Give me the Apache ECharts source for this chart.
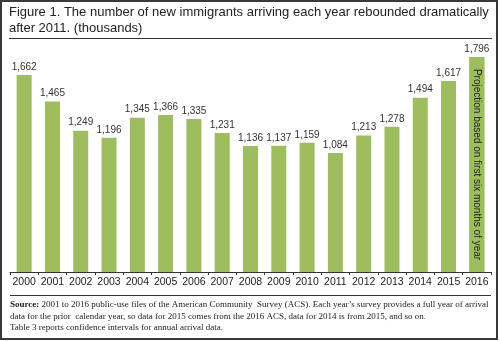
<!DOCTYPE html>
<html>
<head>
<meta charset="utf-8">
<script src="https://cdn.jsdelivr.net/npm/echarts@6/dist/echarts.min.js"></script>
<style>
html,body{margin:0;padding:0;background:#fff;}
#c{width:500px;height:341px;}
</style>
</head>
<body>
<div id="c"></div>
<script>
const years = ['2000','2001','2002','2003','2004','2005','2006','2007','2008','2009','2010','2011','2012','2013','2014','2015','2016'];
const arrivals = [1662,1465,1249,1196,1345,1366,1335,1231,1136,1137,1159,1084,1213,1278,1494,1617,1796];
const titleLines = ['Figure 1. The number of new immigrants arriving each year rebounded dramatically', 'after 2011. (thousands)'];
const projectionNote = 'Projection based on first six months of year';
const sourceLines = [
  ['Source:', ' 2001 to 2016 public-use files of the American Community  Survey (ACS). Each year\u2019s survey provides a full year of arrival'],
  ['', 'data for the prior  calendar year, so data for 2015 comes from the 2016 ACS, data for 2014 is from 2015, and so on.'],
  ['', 'Table 3 reports confidence intervals for annual arrival data.']
];

const green = '#9dbd5f';
const fmt = v => v.toLocaleString('en-US');

const projData = arrivals.map((v, i) => i === arrivals.length - 1 ? v : '-');

const chart = echarts.init(document.getElementById('c'), null, {renderer: 'canvas'});

const graphics = [
  {type: 'rect', shape: {x: 1, y: 1, width: 496, height: 338}, style: {fill: 'none', stroke: '#3a3a3a', lineWidth: 2}, silent: true},
  {type: 'text', left: 9, top: 5, style: {text: titleLines.join('\n'), font: '13px "Liberation Sans", Arial, sans-serif', fill: '#222', lineHeight: 15.5}},
  {type: 'line', shape: {x1: 9, y1: 38.5, x2: 492, y2: 38.5}, style: {stroke: '#333', lineWidth: 1}},
  {type: 'line', shape: {x1: 10, y1: 295.5, x2: 491, y2: 295.5}, style: {stroke: '#333', lineWidth: 1}},
  {type: 'text', left: 10, top: 299, style: {
    text: sourceLines.map(l => (l[0] ? '{b|' + l[0] + '}' : '') + '{n|' + l[1] + '}').join('\n'),
    font: '9px "Liberation Serif", "Times New Roman", serif', fill: '#222', lineHeight: 11.5,
    rich: {
      b: {font: 'bold 9px "Liberation Serif", "Times New Roman", serif', fill: '#222', lineHeight: 11.5},
      n: {font: '9px "Liberation Serif", "Times New Roman", serif', fill: '#222', lineHeight: 11.5}
    }
  }}
];

chart.setOption({
  animation: false,
  backgroundColor: '#fff',
  grid: {left: 10, right: 9, top: 29.5, bottom: 69, containLabel: false},
  xAxis: {
    type: 'category',
    data: years,
    axisLine: {show: true, lineStyle: {color: '#333', width: 1}},
    axisTick: {show: true, length: 3, lineStyle: {color: '#333'}},
    axisLabel: {interval: 0, color: '#222', fontSize: 10.5, fontFamily: '"Liberation Sans", Arial, sans-serif', margin: 5}
  },
  yAxis: {
    type: 'value', min: 200, max: 2000,
    show: false,
    splitLine: {show: false}
  },
  series: [
    {
      type: 'bar',
      data: arrivals,
      barWidth: 15,
      itemStyle: {color: green},
      label: {show: true, position: 'top', distance: 3, color: '#333', fontSize: 10, fontFamily: '"Liberation Sans", Arial, sans-serif', formatter: p => fmt(p.value)}
    },
    {
      type: 'bar',
      data: projData,
      barWidth: 15,
      barGap: '-100%',
      itemStyle: {color: green},
      label: {show: true, position: 'inside', rotate: -90, color: '#222', fontSize: 10, fontFamily: '"Liberation Sans", Arial, sans-serif', formatter: () => projectionNote}
    }
  ],
  graphic: graphics
});
</script>
</body>
</html>
